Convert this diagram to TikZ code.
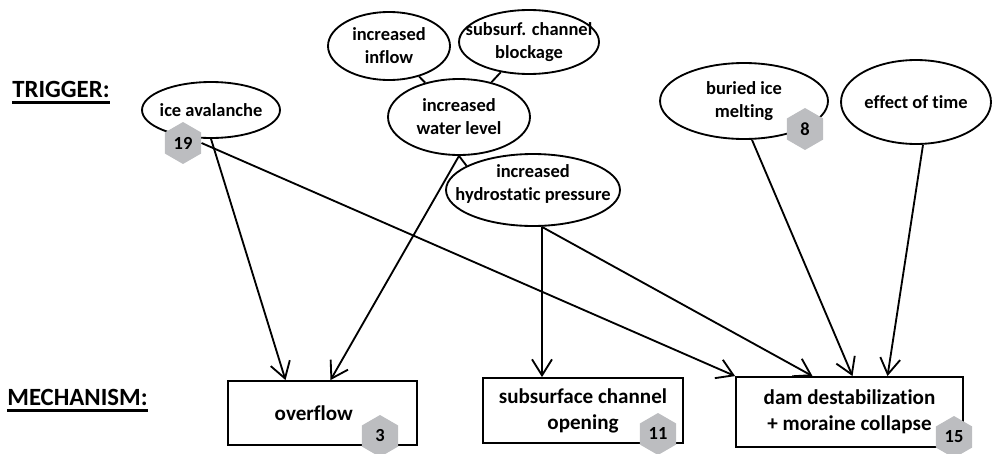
\documentclass[tikz,border=0pt]{standalone}
\usepackage{fontspec}
\setmainfont{Carlito}[Ligatures={NoCommon}]
\usetikzlibrary{shapes.geometric,arrows.meta,calc}

\definecolor{hexgray}{RGB}{188,189,192}

\newcommand{\hdrline}[1]{\setbox0\hbox{#1}\rlap{\rule[-0.27em]{\wd0}{0.09em}}\box0}

\tikzset{
  cause/.style={draw, ellipse, line width=1.05pt, inner sep=0pt},
  causetxt/.style={align=center, font=\bfseries\fontsize{10.5}{13.1}\selectfont},
  mech/.style={draw, rectangle, line width=1.05pt, align=center,
    font=\bfseries\fontsize{12}{14.8}\selectfont},
  badge/.style={regular polygon, regular polygon sides=6, shape border rotate=30,
    fill=hexgray, minimum size=0.84cm, inner sep=0pt,
    font=\bfseries\fontsize{10.5}{12}\selectfont},
  link/.style={line width=1.05pt},
  arr/.style={line width=1.05pt, -{Straight Barb[length=0.32cm, width=0.4cm]}},
  heading/.style={anchor=base west, inner sep=0pt,
    font=\bfseries\fontsize{14.1}{17}\selectfont}
}

\begin{document}
\begin{tikzpicture}[x=0.02cm, y=-0.02cm]
    \useasboundingbox (0,0) rectangle (993,453);

    % Row headings
    \node[heading] (trigger) at (12,97) {\hdrline{TRIGGER:}};
    \node[heading] (mechanism) at (7,405) {\hdrline{MECHANISM:}};

    % increased inflow
    \node[cause,
      minimum width=2.44cm,
      minimum height=1.36cm,
      label={[causetxt]center:increased\\inflow}] (inflow) at (389,46) {};

    % subsurf. channel blockage
    \node[cause,
      minimum width=2.8cm,
      minimum height=1.28cm,
      label={[causetxt]center:subsurf. channel\\blockage}] (blockage) at (529,42) {};

    % increased water level
    \node[cause,
      minimum width=2.84cm,
      minimum height=1.52cm,
      label={[causetxt]center:increased\\water level}] (waterlevel) at (459,117) {};

    % increased hydrostatic pressure
    \node[cause,
      minimum width=3.48cm,
      minimum height=1.44cm,
      label={[causetxt, yshift=0.12cm]center:increased\\hydrostatic pressure}] (pressure) at (533,190) {};

    % ice avalanche
    \node[cause,
      minimum width=2.76cm,
      minimum height=1.12cm,
      label={[causetxt]center:ice avalanche}] (avalanche) at (211,110) {};

    % buried ice melting
    \node[cause,
      minimum width=3.36cm,
      minimum height=1.52cm,
      label={[causetxt]center:buried ice\\melting}] (buried) at (744,101) {};

    % effect of time
    \node[cause,
      minimum width=3.0cm,
      minimum height=1.68cm,
      label={[causetxt]center:effect of time}] (time) at (916,102) {};

    % Mechanisms
    \node[mech,
      minimum width=3.78cm,
      minimum height=1.28cm] (overflow) at (322.5,413) {overflow\hspace{0.35cm}};
    \node[mech,
      minimum width=4.0cm,
      minimum height=1.3cm] (channel) at (583,410.5) {subsurface channel\\opening};
    \node[mech,
      minimum width=4.54cm,
      minimum height=1.4cm] (dam) at (849.5,412) {dam destabilization\\+ moraine collapse};

    % Hexagon badges
    \node[badge] (b19) at (183,143) {19};
    \node[badge] (b8) at (805,129) {8};
    \node[badge] (b3) at (380,436) {3};
    \node[badge] (b11) at (658,434) {11};
    \node[badge] (b15) at (954,437) {15};

    % Plain links
    \draw[link] (inflow) -- (waterlevel);
    \draw[link] (blockage) -- (waterlevel);
    \draw[link] (waterlevel.south) -- (pressure.160);

    % Draw Arrows
    \coordinate (pout) at ($(pressure.south)+(9,0)$);
    \draw[arr] (avalanche.south) -- ($(overflow.north)+(-37,0)$);
    \draw[arr] (b19.east) -- (dam.north west);
    \draw[arr] (waterlevel.south) -- ($(overflow.north)+(8,0)$);
    \draw[arr] (pout) -- (pout |- channel.north);
    \draw[arr] (pout) -- ($(dam.north)+(-37,0)$);
    \draw[arr] ($(buried.south)+(8,0)$) -- ($(dam.north)+(3,0)$);
    \draw[arr] ($(time.south)+(7,0)$) -- ($(dam.north)+(38,0)$);
  \end{tikzpicture}
\end{document}
